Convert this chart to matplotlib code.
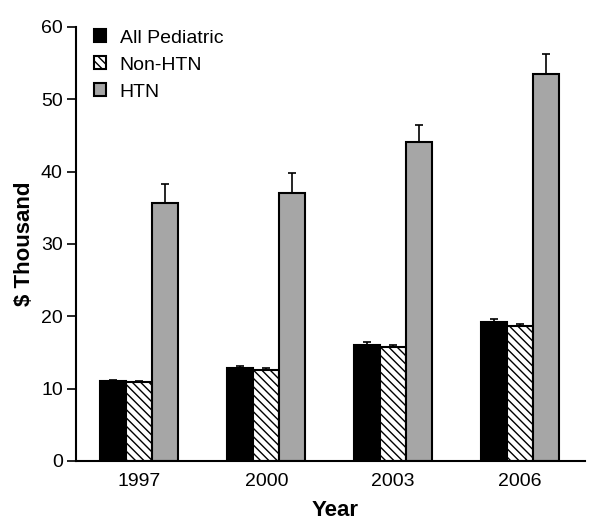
import matplotlib
matplotlib.use("Agg")
import matplotlib.pyplot as plt
import numpy as np

plt.rcParams['font.family'] = ['Liberation Sans', 'DejaVu Sans']
plt.rcParams['hatch.linewidth'] = 1.0

years = ["1997", "2000", "2003", "2006"]
series = ["All Pediatric", "Non-HTN", "HTN"]
all_ped = [11.0, 12.9, 16.0, 19.2]
all_ped_err = [0.2, 0.2, 0.4, 0.4]
non_htn = [10.9, 12.6, 15.8, 18.6]
non_htn_err = [0.15, 0.2, 0.3, 0.4]
htn = [35.7, 37.0, 44.1, 53.5]
htn_err = [2.6, 2.8, 2.3, 2.7]

fig = plt.figure(figsize=(6, 5.26), dpi=100)
ax = fig.add_axes([0.1267, 0.1236, 0.848, 0.8251])

x = np.arange(len(years))
w = 0.205
styles = [
    dict(color="black", hatch=None),
    dict(color="white", hatch="\\\\\\\\"),
    dict(color="#a6a6a6", hatch=None),
]
vals = [all_ped, non_htn, htn]
errs = [all_ped_err, non_htn_err, htn_err]
for i, (v, e, st) in enumerate(zip(vals, errs, styles)):
    ax.bar(x + (i - 1) * w, v, w, facecolor=st["color"], edgecolor="black",
           hatch=st["hatch"], linewidth=1.5, label=series[i], zorder=2)
    ax.errorbar(x + (i - 1) * w, v, yerr=[np.zeros(len(e)), e], fmt="none",
                ecolor="black", elinewidth=1.2, capsize=3, capthick=1.2, zorder=1)

ax.set_xlim(-0.5, 3.51)
ax.set_ylim(0, 60)
ax.set_yticks([0, 10, 20, 30, 40, 50, 60])
ax.set_xticks(x)
ax.set_xticklabels(years)
ax.tick_params(axis="x", length=0, labelsize=14, pad=9)
ax.tick_params(axis="y", length=6.5, width=1.2, labelsize=14, direction="out", pad=3)
for s in ["top", "right"]:
    ax.spines[s].set_visible(False)
ax.spines["left"].set_linewidth(1.5)
ax.spines["bottom"].set_linewidth(1.5)

ax.set_xlabel("Year", fontsize=16, fontweight="bold", labelpad=7, x=0.51)
ax.set_ylabel("$ Thousand", fontsize=16, fontweight="bold", labelpad=4)

ax.legend(loc="upper left", frameon=False, fontsize=14, handlelength=0.65,
          handleheight=0.65, handletextpad=0.7, labelspacing=0.5,
          bbox_to_anchor=(0.0, 1.035))

fig.savefig("out.png", dpi=100)
